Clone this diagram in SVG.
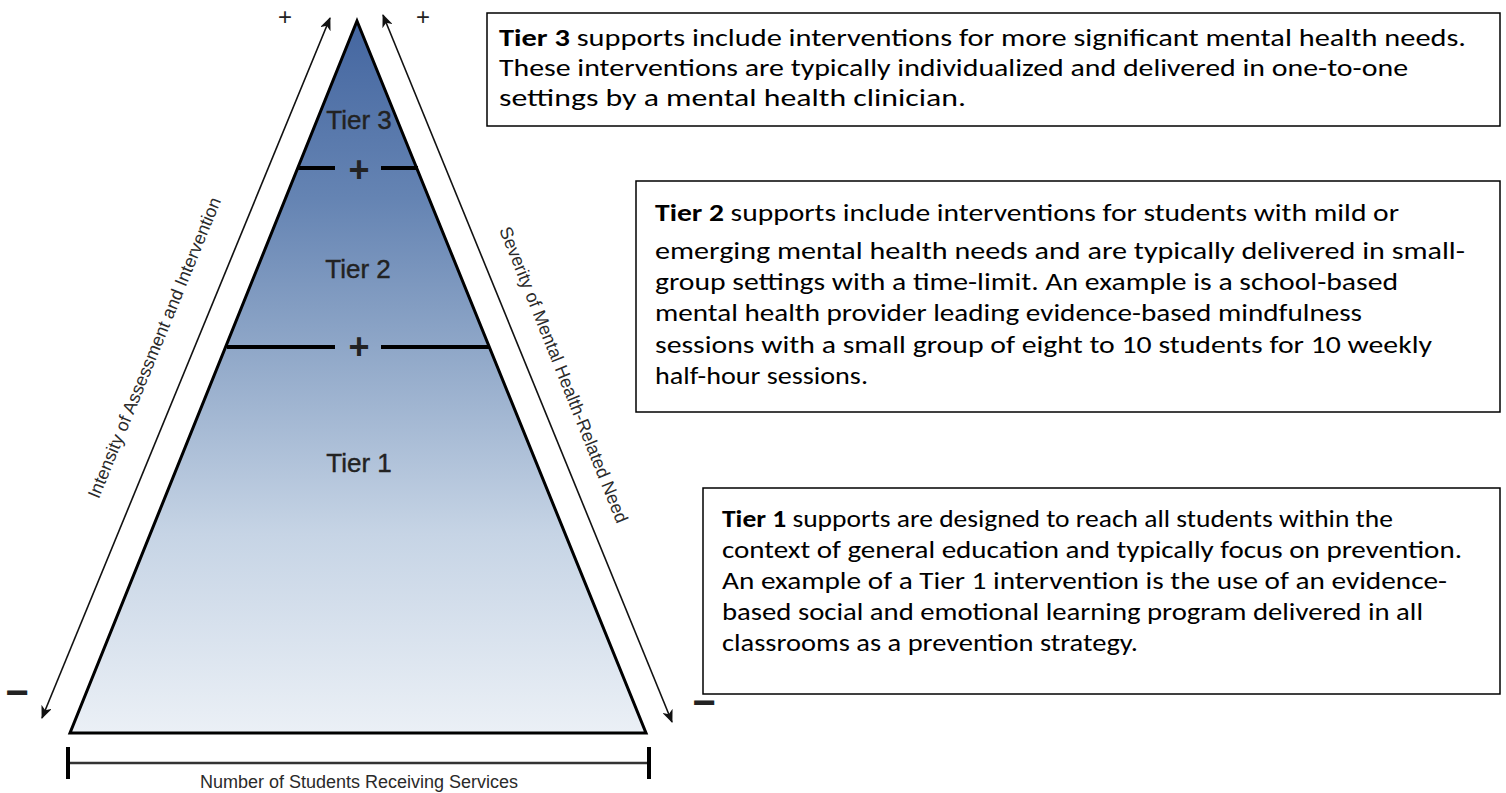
<svg xmlns="http://www.w3.org/2000/svg" width="1506" height="793" viewBox="0 0 1506 793">
  <style>
    .tier { font-family: "Liberation Sans", Arial, sans-serif; font-size: 26px; fill: #222; text-anchor: middle; stroke: #222; stroke-width: 0.4; }
    .axis { font-family: "Liberation Sans", Arial, sans-serif; font-size: 18px; fill: #2a2a2a; text-anchor: middle; }
    .mark { font-family: "Liberation Sans", Arial, sans-serif; fill: #222; text-anchor: middle; }
    .box { fill: #fff; stroke: #000; stroke-width: 1.5; }
    .body { font-family: Carlito, Calibri, Lato, "Open Sans", sans-serif; font-size: 24px; fill: #000; }
    .divider { stroke: #000; stroke-width: 4; }
    .arrow { stroke: #111; stroke-width: 1.6; fill: none; marker-start: url(#ah); marker-end: url(#ah); }
  </style>
  <defs>
    <linearGradient id="pyr" x1="0" y1="21" x2="0" y2="733" gradientUnits="userSpaceOnUse">
      <stop offset="0" stop-color="#4466a0"/>
      <stop offset="0.25" stop-color="#6584b3"/>
      <stop offset="0.46" stop-color="#8fa7c8"/>
      <stop offset="0.72" stop-color="#c6d4e5"/>
      <stop offset="1" stop-color="#ebf0f6"/>
    </linearGradient>
    <marker id="ah" viewBox="0 0 13 11" refX="12" refY="5.5" markerWidth="13" markerHeight="11" markerUnits="userSpaceOnUse" orient="auto-start-reverse">
      <path d="M0,0 L13,5.5 L0,11 L3.5,5.5 z" fill="#111"/>
    </marker>
  </defs>

  <g id="pyramid">
    <polygon points="357,21 646,733 70,733" fill="url(#pyr)" stroke="#000" stroke-width="3" stroke-linejoin="miter"/>
    <line class="divider" x1="297" y1="168" x2="335" y2="168"/>
    <line class="divider" x1="381" y1="168" x2="418" y2="168"/>
    <text class="mark" x="359" y="182" font-size="36" font-weight="bold">+</text>
    <line class="divider" x1="227" y1="347" x2="335" y2="347"/>
    <line class="divider" x1="381" y1="347" x2="490" y2="347"/>
    <text class="mark" x="359" y="359" font-size="36" font-weight="bold">+</text>
  </g>
  <g id="tier3"><text class="tier" x="359" y="129">Tier 3</text></g>
  <g id="tier2"><text class="tier" x="358" y="278">Tier 2</text></g>
  <g id="tier1"><text class="tier" x="359" y="472">Tier 1</text></g>

  <g id="connectors">
    <line class="arrow" x1="42" y1="718" x2="330" y2="18"/>
    <line class="arrow" x1="383" y1="15" x2="672" y2="722"/>
    <line x1="68" y1="763" x2="649" y2="763" stroke="#333" stroke-width="2.5"/>
    <line x1="68" y1="747" x2="68" y2="779" stroke="#000" stroke-width="4"/>
    <line x1="649" y1="747" x2="649" y2="779" stroke="#000" stroke-width="4"/>
  </g>

  <g id="axis-labels">
    <text class="axis" transform="translate(160,350) rotate(-67.7)">Intensity of Assessment and Intervention</text>
    <text class="axis" font-size="21.5" transform="translate(558,377) rotate(68.2)">Severity of Mental Health-Related Need</text>
    <text class="axis" font-size="19" x="359" y="788">Number of Students Receiving Services</text>
    <text class="mark" x="285" y="25" font-size="24">+</text>
    <text class="mark" x="423" y="25" font-size="24">+</text>
    <text class="mark" x="17" y="706" font-size="40" font-weight="bold">−</text>
    <text class="mark" x="704" y="716" font-size="40" font-weight="bold">−</text>
  </g>

  <g id="box-tier3">
    <rect class="box" x="487" y="13" width="1013" height="113"/>
    <text class="body" x="499" y="46" textLength="967" lengthAdjust="spacingAndGlyphs"><tspan font-weight="bold">Tier 3</tspan> supports include interventions for more significant mental health needs.</text>
    <text class="body" x="499" y="76" textLength="909" lengthAdjust="spacingAndGlyphs">These interventions are typically individualized and delivered in one-to-one</text>
    <text class="body" x="499" y="106" textLength="467" lengthAdjust="spacingAndGlyphs">settings by a mental health clinician.</text>
  </g>

  <g id="box-tier2">
    <rect class="box" x="636" y="181" width="864" height="231"/>
    <text class="body" x="655" y="221" textLength="744" lengthAdjust="spacingAndGlyphs"><tspan font-weight="bold">Tier 2</tspan> supports include interventions for students with mild or</text>
    <text class="body" x="655" y="259" textLength="810" lengthAdjust="spacingAndGlyphs">emerging mental health needs and are typically delivered in small-</text>
    <text class="body" x="655" y="290" textLength="743" lengthAdjust="spacingAndGlyphs">group settings with a time-limit. An example is a school-based</text>
    <text class="body" x="655" y="321" textLength="707" lengthAdjust="spacingAndGlyphs">mental health provider leading evidence-based mindfulness</text>
    <text class="body" x="655" y="353" textLength="777" lengthAdjust="spacingAndGlyphs">sessions with a small group of eight to 10 students for 10 weekly</text>
    <text class="body" x="655" y="384" textLength="213" lengthAdjust="spacingAndGlyphs">half-hour sessions.</text>
  </g>

  <g id="box-tier1">
    <rect class="box" x="703" y="488" width="797" height="206"/>
    <text class="body" x="722" y="527" textLength="671" lengthAdjust="spacingAndGlyphs"><tspan font-weight="bold">Tier 1</tspan> supports are designed to reach all students within the</text>
    <text class="body" x="722" y="558" textLength="740" lengthAdjust="spacingAndGlyphs">context of general education and typically focus on prevention.</text>
    <text class="body" x="722" y="589" textLength="725" lengthAdjust="spacingAndGlyphs">An example of a Tier 1 intervention is the use of an evidence-</text>
    <text class="body" x="722" y="620" textLength="701" lengthAdjust="spacingAndGlyphs">based social and emotional learning program delivered in all</text>
    <text class="body" x="722" y="651" textLength="416" lengthAdjust="spacingAndGlyphs">classrooms as a prevention strategy.</text>
  </g>
</svg>
